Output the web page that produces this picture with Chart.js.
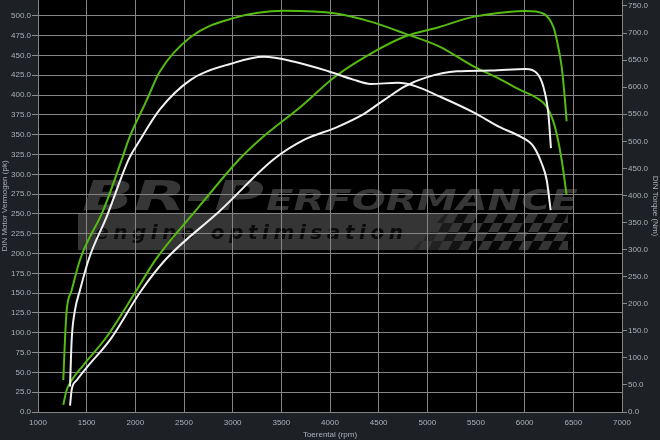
<!DOCTYPE html>
<html>
<head>
<meta charset="utf-8">
<script src="https://cdn.jsdelivr.net/npm/chart.js@4.4.0/dist/chart.umd.min.js"></script>
<style>
  html, body { margin: 0; padding: 0; background: #1d2125; }
  canvas { display: block; }
</style>
</head>
<body>
<canvas id="dyno" width="660" height="440"></canvas>
<script>
// tuned run (green)
const tunedPowerRpm = [1260, 1295, 1346, 1465, 1706, 2014, 2212, 2633, 3068, 3281, 3706, 4061, 4487, 4770, 5125, 5480, 5834, 6011, 6189, 6295, 6329, 6380, 6414, 6431];
const tunedPowerPk  = [9, 28, 40, 59, 95, 154, 193, 256, 319, 344, 386, 424, 457, 474, 486, 499, 505, 506, 503, 486, 470, 436, 394, 367];
const tunedTorqueRpm = [1260, 1277, 1295, 1346, 1437, 1671, 1862, 1933, 2117, 2252, 2572, 2997, 3529, 4061, 4416, 4770, 5125, 5480, 5746, 5952, 6123, 6226, 6311, 6380, 6431];
const tunedTorqueNm  = [59, 133, 188, 225, 284, 373, 467, 504, 576, 629, 693, 727, 741, 736, 721, 699, 675, 638, 615, 595, 580, 564, 527, 466, 401];

// stock run (white)
const stockPowerRpm = [1329, 1346, 1398, 1500, 1740, 2065, 2323, 2870, 3422, 3742, 4061, 4345, 4558, 4770, 4983, 5302, 5657, 6011, 6123, 6191, 6243, 6270];
const stockPowerPk  = [8, 28, 40, 56, 91, 154, 194, 254, 319, 344, 359, 376, 394, 411, 422, 430, 431, 433, 428, 411, 377, 333];
const stockTorqueRpm = [1329, 1346, 1380, 1431, 1525, 1706, 1933, 2040, 2252, 2572, 2997, 3316, 3635, 3990, 4238, 4416, 4699, 4876, 5125, 5480, 5746, 5952, 6088, 6175, 6226, 6267];
const stockTorqueNm  = [47, 133, 188, 225, 284, 361, 467, 500, 559, 614, 644, 656, 647, 629, 614, 606, 608, 602, 583, 553, 526, 509, 491, 459, 429, 373];

// axes
const rpmRange = [1000, 7000];
const powerRange = [0, 520];
const torqueRange = [0, 761];

const GREEN = '#55bb11';
const WHITE = '#f2f2f2';
const GRID = '#858585';
const TEXT = '#aab0b6';

const toPoints = (xs, ys) => xs.map((x, i) => ({ x: x, y: ys[i] }));

function stretchText(ctx, text, font, x, y, w) {
    ctx.save();
    ctx.font = font;
    const m = ctx.measureText(text).width;
    ctx.translate(x, y);
    ctx.scale(w / m, 1);
    ctx.fillText(text, 0, 0);
    ctx.restore();
}

function spacedText(ctx, text, font, x, y, w) {
    ctx.save();
    ctx.font = font;
    const chars = text.split('');
    const widths = chars.map(c => ctx.measureText(c).width);
    const gap = (w - widths.reduce((a, b) => a + b, 0)) / (chars.length - 1);
    let cx = x;
    chars.forEach((c, i) => {
        ctx.fillText(c, cx, y);
        cx += widths[i] + gap;
    });
    ctx.restore();
}

// background, black plot area and the BR-Performance watermark under the grid
const watermark = {
    id: 'watermark',
    beforeDraw(chart) {
        const { ctx, chartArea: a } = chart;
        ctx.save();
        ctx.fillStyle = '#1d2125';
        ctx.fillRect(0, 0, chart.width, chart.height);
        ctx.fillStyle = '#000';
        ctx.fillRect(a.left, a.top, a.right - a.left, a.bottom - a.top);

        ctx.fillStyle = '#363636';
        stretchText(ctx, 'BR-P', 'italic bold 40px "DejaVu Sans"', 82, 210, 182);
        stretchText(ctx, 'ERFORMANCE', 'italic bold 29px "DejaVu Sans"', 266, 210, 312);

        ctx.fillStyle = '#353535';
        ctx.fillRect(78, 214, 490, 36);

        // checkered flag
        ctx.save();
        ctx.beginPath();
        ctx.moveTo(445, 214);
        ctx.lineTo(576, 214);
        ctx.lineTo(572, 250);
        ctx.lineTo(412, 250);
        ctx.closePath();
        ctx.clip();
        const cw = 10, ch = 9, skew = 5;
        for (let r = 0; r < 5; r++) {
            for (let c = -2; c < 20; c++) {
                if ((r + c) % 2 !== 0) continue;
                const x0 = 418 + c * cw + (4 - r) * skew;
                const y0 = 214 + r * ch;
                ctx.globalAlpha = Math.min(1, Math.max(0.25, (x0 - 410) / 60));
                ctx.fillStyle = '#060606';
                ctx.beginPath();
                ctx.moveTo(x0, y0);
                ctx.lineTo(x0 + cw, y0);
                ctx.lineTo(x0 + cw - skew, y0 + ch);
                ctx.lineTo(x0 - skew, y0 + ch);
                ctx.closePath();
                ctx.fill();
            }
        }
        ctx.restore();

        ctx.fillStyle = '#0b0b0b';
        spacedText(ctx, 'engine optimisation', 'italic bold 20px "DejaVu Sans"', 95, 239, 308);
        ctx.restore();
    }
};

const sideWidth = w => scale => {
    scale.width = w;
    scale.paddingTop = 0;
    scale.paddingBottom = 0;
};

const series = (label, pts, color, axis) => ({
    label: label,
    data: pts,
    yAxisID: axis,
    borderColor: color,
    borderWidth: 2,
    pointRadius: 0,
    fill: false,
    cubicInterpolationMode: 'monotone'
});

new Chart(document.getElementById('dyno'), {
    type: 'line',
    data: {
        datasets: [
            series('Vermogen standaard', toPoints(stockPowerRpm, stockPowerPk), WHITE, 'y'),
            series('Koppel standaard', toPoints(stockTorqueRpm, stockTorqueNm), WHITE, 'y1'),
            series('Vermogen getuned', toPoints(tunedPowerRpm, tunedPowerPk), GREEN, 'y'),
            series('Koppel getuned', toPoints(tunedTorqueRpm, tunedTorqueNm), GREEN, 'y1')
        ]
    },
    options: {
        responsive: false,
        animation: false,
        layout: { padding: 0 },
        plugins: { legend: { display: false }, tooltip: { enabled: false } },
        scales: {
            x: {
                type: 'linear',
                min: rpmRange[0],
                max: rpmRange[1],
                grid: { color: GRID, drawTicks: false },
                border: { display: false },
                ticks: {
                    stepSize: 500,
                    color: TEXT,
                    font: { family: 'Liberation Sans', size: 8 },
                    padding: 6,
                    maxRotation: 0,
                    autoSkip: false,
                    callback: v => String(v)
                },
                title: {
                    display: true,
                    text: 'Toerental (rpm)',
                    color: TEXT,
                    font: { family: 'Liberation Sans', size: 8 },
                    padding: 0
                },
                afterFit: s => { s.height = 28; s.paddingLeft = 0; s.paddingRight = 0; }
            },
            y: {
                position: 'left',
                min: powerRange[0],
                max: powerRange[1],
                grid: { color: GRID, tickLength: 6, tickColor: '#8a8a8a' },
                border: { display: false },
                ticks: {
                    stepSize: 25,
                    includeBounds: false,
                    color: TEXT,
                    font: { family: 'Liberation Sans', size: 8 },
                    padding: 1,
                    callback: v => v.toFixed(1)
                },
                afterBuildTicks: s => { s.ticks = s.ticks.filter(t => t.value <= 500); },
                title: {
                    display: true,
                    text: 'DIN Motor Vermogen (pk)',
                    color: TEXT,
                    font: { family: 'Liberation Sans', size: 8 },
                    padding: 0
                },
                afterFit: sideWidth(38)
            },
            y1: {
                position: 'right',
                min: torqueRange[0],
                max: torqueRange[1],
                grid: { drawOnChartArea: false, tickLength: 5, tickColor: '#8a8a8a' },
                border: { display: false },
                ticks: {
                    stepSize: 50,
                    includeBounds: false,
                    color: TEXT,
                    font: { family: 'Liberation Sans', size: 8 },
                    padding: 1,
                    callback: v => v.toFixed(1)
                },
                afterBuildTicks: s => { s.ticks = s.ticks.filter(t => t.value <= 750); },
                title: {
                    display: true,
                    text: 'DIN Torque (Nm)',
                    color: TEXT,
                    font: { family: 'Liberation Sans', size: 8 },
                    padding: 0
                },
                afterFit: sideWidth(38)
            }
        }
    },
    plugins: [watermark]
});
</script>
</body>
</html>
